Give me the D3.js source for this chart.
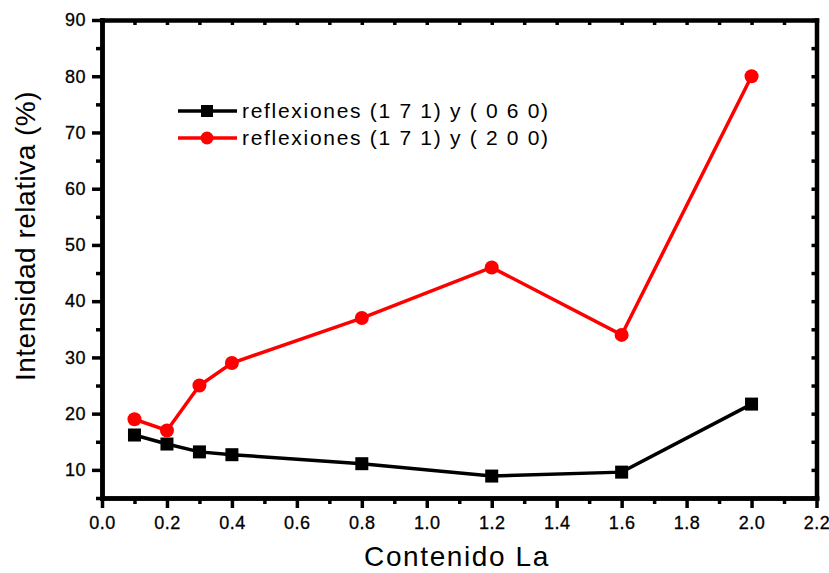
<!DOCTYPE html>
<html>
<head>
<meta charset="utf-8">
<script src="https://cdn.jsdelivr.net/npm/d3@7"></script>
<style>
body { margin: 0; background: #fff; }
text { font-family: "Liberation Sans", Arial, sans-serif; }
</style>
</head>
<body>
<script>
var w = 829;
var h = 573;

var contenido = [0.1, 0.2, 0.3, 0.4, 0.8, 1.2, 1.6, 2.0];
var serie060 = [16.2, 14.6, 13.2, 12.7, 11.1, 8.9, 9.6, 21.7];
var serie200 = [19, 17, 25, 29, 37, 46, 34, 80];
var nombres = ["reflexiones (1 7 1) y ( 0 6 0)", "reflexiones (1 7 1) y ( 2 0 0)"];
var xTicks = [0.0, 0.2, 0.4, 0.6, 0.8, 1.0, 1.2, 1.4, 1.6, 1.8, 2.0, 2.2];
var yTicks = [10, 20, 30, 40, 50, 60, 70, 80, 90];

var mLeft = 102, mRight = 816.5, mTop = 20, mBottom = 498;

var xScale = d3.scaleLinear().domain([0, 2.2]).range([mLeft, mRight]);
var yScale = d3.scaleLinear().domain([5, 90]).range([mBottom, mTop]);

var svg = d3.select("body").append("svg")
    .attr("width", w)
    .attr("height", h);

// minor ticks
var xMinor = d3.range(0.1, 2.2, 0.2);
var yMinor = d3.range(5, 90, 10);

// bottom axis
var gx = svg.append("g")
    .attr("transform", "translate(0," + mBottom + ")")
    .call(d3.axisBottom(xScale)
        .tickValues(xTicks)
        .tickFormat(d3.format(".1f"))
        .tickSize(10)
        .tickSizeOuter(0)
        .tickPadding(8));
gx.append("g").call(d3.axisBottom(xScale).tickValues(xMinor).tickSize(6).tickSizeOuter(0).tickFormat(""));

// left axis
var gy = svg.append("g")
    .attr("transform", "translate(" + mLeft + ",0)")
    .call(d3.axisLeft(yScale)
        .tickValues(yTicks)
        .tickSize(10)
        .tickSizeOuter(0)
        .tickPadding(6));
gy.append("g").call(d3.axisLeft(yScale).tickValues(yMinor).tickSize(6).tickSizeOuter(0).tickFormat(""));

// top and right axes (ticks inward)
svg.append("g")
    .attr("transform", "translate(0," + mTop + ")")
    .call(d3.axisBottom(xScale).tickValues(d3.range(0, 2.25, 0.1)).tickSize(5).tickSizeOuter(0).tickFormat(""));
svg.append("g")
    .attr("transform", "translate(" + mRight + ",0)")
    .call(d3.axisLeft(yScale).tickValues(d3.range(5, 95, 5)).tickSize(5).tickSizeOuter(0).tickFormat(""));

svg.selectAll(".domain")
    .style("stroke", "#000")
    .style("stroke-width", "4.5px")
    .style("stroke-linecap", "square");
svg.selectAll(".tick line")
    .style("stroke", "#000")
    .style("stroke-width", "3.5px");
svg.selectAll(".tick text")
    .style("fill", "#000")
    .style("font-family", "'Liberation Sans', Arial, sans-serif")
    .style("font-size", "18px")
    .style("letter-spacing", "0.5px")
    .style("stroke", "#000")
    .style("stroke-width", "0.3px");

// lines
var line = d3.line()
    .x(function(d, i) { return xScale(contenido[i]); })
    .y(function(d) { return yScale(d); });

svg.append("path").datum(serie060)
    .attr("d", line)
    .attr("fill", "none")
    .attr("stroke", "#000")
    .attr("stroke-width", 3.5);

svg.append("path").datum(serie200)
    .attr("d", line)
    .attr("fill", "none")
    .attr("stroke", "#ff0000")
    .attr("stroke-width", 3.5);

svg.selectAll("rect.m").data(serie060).enter().append("rect")
    .attr("class", "m")
    .attr("x", function(d, i) { return xScale(contenido[i]) - 6.5; })
    .attr("y", function(d) { return yScale(d) - 6.5; })
    .attr("width", 13)
    .attr("height", 13)
    .attr("fill", "#000");

svg.selectAll("circle.m").data(serie200).enter().append("circle")
    .attr("class", "m")
    .attr("cx", function(d, i) { return xScale(contenido[i]); })
    .attr("cy", function(d) { return yScale(d); })
    .attr("r", 7)
    .attr("fill", "#ff0000");

// legend
var leg = svg.append("g").attr("transform", "translate(178,111)");
leg.append("line").attr("x1", 0).attr("x2", 59).attr("y1", 0).attr("y2", 0)
    .attr("stroke", "#000").attr("stroke-width", 3.5);
leg.append("rect").attr("x", 23).attr("y", -6).attr("width", 12).attr("height", 12).attr("fill", "#000");
leg.append("text").attr("x", 64).attr("y", 7)
    .style("font-size", "21px").style("letter-spacing", "1.7px")
    .text(nombres[0]);

leg.append("line").attr("x1", 0).attr("x2", 59).attr("y1", 27).attr("y2", 27)
    .attr("stroke", "#ff0000").attr("stroke-width", 3.5);
leg.append("circle").attr("cx", 29).attr("cy", 27).attr("r", 6.5).attr("fill", "#ff0000");
leg.append("text").attr("x", 64).attr("y", 34)
    .style("font-size", "21px").style("letter-spacing", "1.7px")
    .text(nombres[1]);

// axis titles
svg.append("text")
    .attr("x", 457)
    .attr("y", 566)
    .attr("text-anchor", "middle")
    .style("font-size", "28px")
    .style("letter-spacing", "1.6px")
    .text("Contenido La");

svg.append("text")
    .attr("transform", "translate(35,236) rotate(-90)")
    .attr("text-anchor", "middle")
    .style("font-size", "28px")
    .style("letter-spacing", "0.5px")
    .text("Intensidad relativa (%)");
</script>
</body>
</html>
